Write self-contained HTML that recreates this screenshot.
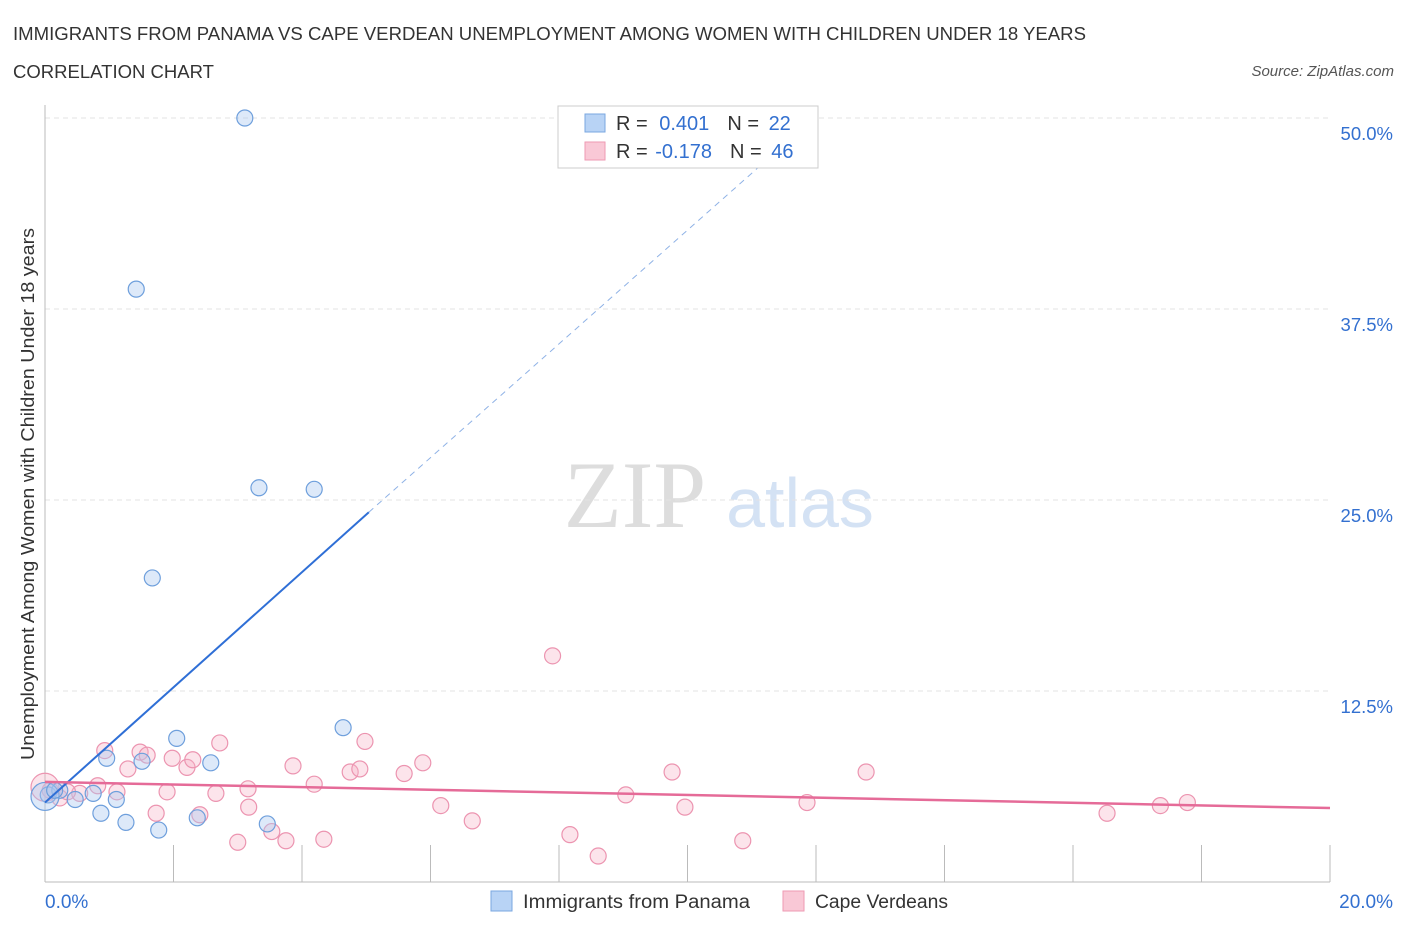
<!DOCTYPE html>
<html><head><meta charset="utf-8"><style>
body{margin:0;background:#fff;font-family:"Liberation Sans",sans-serif;}
</style></head><body>
<svg width="1406" height="930" xmlns="http://www.w3.org/2000/svg" id="svg">
<text x="13" y="40" font-size="18" fill="#333" textLength="1073" lengthAdjust="spacingAndGlyphs">IMMIGRANTS FROM PANAMA VS CAPE VERDEAN UNEMPLOYMENT AMONG WOMEN WITH CHILDREN UNDER 18 YEARS</text>
<text x="13" y="78" font-size="18" fill="#333" textLength="201" lengthAdjust="spacingAndGlyphs">CORRELATION CHART</text>
<text x="1394" y="76" font-size="15" fill="#555" font-style="italic" text-anchor="end">Source: ZipAtlas.com</text>
<text x="635" y="527" font-size="95" fill="#ddd" font-family="Liberation Serif,serif" text-anchor="middle">ZIP</text>
<text x="800" y="527" font-size="70" fill="#d4e2f4" text-anchor="middle">atlas</text>
<text transform="translate(34,494) rotate(-90)" font-size="18" fill="#333" text-anchor="middle" textLength="532" lengthAdjust="spacingAndGlyphs">Unemployment Among Women with Children Under 18 years</text>
<g id="grid"></g><g id="marks"></g>
<g>
<rect x="558" y="106" width="260" height="62" fill="#fff" stroke="#ccc"/>
<rect x="585" y="114" width="20" height="18" fill="#b8d3f5" stroke="#7aa7e0"/>
<rect x="585" y="142" width="20" height="18" fill="#f9c8d6" stroke="#ee9ab3"/>
<text x="616" y="130" font-size="20" fill="#333">R = <tspan fill="#3370d0" dx="6">0.401</tspan><tspan dx="18" fill="#333">N = </tspan><tspan fill="#3370d0" dx="4">22</tspan></text>
<text x="616" y="158" font-size="20" fill="#333">R = <tspan fill="#3370d0" dx="2">-0.178</tspan><tspan dx="18" fill="#333">N = </tspan><tspan fill="#3370d0" dx="4">46</tspan></text>
</g>
<g>
<rect x="491" y="891" width="21" height="20" fill="#b8d3f5" stroke="#7aa7e0"/>
<text x="523" y="908" font-size="19" fill="#333" textLength="227" lengthAdjust="spacingAndGlyphs">Immigrants from Panama</text>
<rect x="783" y="891" width="21" height="20" fill="#f9c8d6" stroke="#ee9ab3"/>
<text x="815" y="908" font-size="19" fill="#333" textLength="133" lengthAdjust="spacingAndGlyphs">Cape Verdeans</text>
</g>
</svg>
<script>
const yTicks=[12.5,25,37.5,50];
const yTickLabels=["12.5%","25.0%","37.5%","50.0%"];
const xTickLabels=["0.0%","20.0%"];
const blueX=[3.11,1.42,3.33,4.19,1.67,4.64,2.05,0.96,1.51,2.58,0.05,0.23,0.47,0.75,1.11,0.87,1.26,1.77,2.37,3.46,0.0,0.15];
const blueY=[50.0,38.8,25.8,25.7,19.9,10.1,9.4,8.1,7.9,7.8,5.7,6.0,5.4,5.8,5.4,4.5,3.9,3.4,4.2,3.8,5.6,6.0];
const pinkX=[0.93,1.48,1.59,1.29,1.98,2.21,2.30,2.72,3.16,3.17,3.86,4.19,4.75,4.90,4.98,5.59,5.88,7.90,6.16,6.65,8.17,8.61,9.04,9.76,9.96,10.86,11.86,12.78,16.53,17.36,17.78,3.00,3.75,4.34,3.53,2.41,1.73,1.90,2.66,1.12,0.82,0.54,0.23,0.08,0.0,0.35];
const pinkY=[8.6,8.5,8.3,7.4,8.1,7.5,8.0,9.1,6.1,4.9,7.6,6.4,7.2,7.4,9.2,7.1,7.8,14.8,5.0,4.0,3.1,1.7,5.7,7.2,4.9,2.7,5.2,7.2,4.5,5.0,5.2,2.6,2.7,2.8,3.3,4.4,4.5,5.9,5.8,5.9,6.3,5.8,5.5,6.0,6.2,5.9];
const blueFit=[0.0,5.2,5.04,24.2,11.3,47.5];
const pinkFit=[0.0,6.55,20,4.84];
const X=v=>45+v/20*1285, Y=v=>882-v/50*764;
const ns="http://www.w3.org/2000/svg";
function mk(t,a,p){const e=document.createElementNS(ns,t);for(const k in a)e.setAttribute(k,a[k]);p.appendChild(e);return e;}
const g=document.getElementById('grid'),m=document.getElementById('marks');
yTicks.forEach((t,i)=>{const l=mk('line',{x1:45,x2:1330,y1:Y(t),y2:Y(t),stroke:'#e3e3e3','stroke-dasharray':'5,4'},g);


const tx=mk('text',{x:1393,y:Y(t)+22,'font-size':18.5,fill:'#3370d0','text-anchor':'end'},g);tx.textContent=yTickLabels[i];

});
const ax=mk('line',{x1:45,x2:1330,y1:882,y2:882,stroke:'#bbb'},g);


const ay=mk('line',{x1:45,x2:45,y1:105,y2:882,stroke:'#bbb'},g);


for(let i=0;i<=10;i++){const t=mk('line',{x1:X(i*2),x2:X(i*2),y1:845,y2:882,stroke:'#bbb'},g);

}
[[0,'start',45],[20,'end',1393]].forEach((d,i)=>{const t=mk('text',{x:d[2],y:908,'font-size':19,fill:'#3370d0','text-anchor':d[1]},g);t.textContent=xTickLabels[i];

});
pinkX.forEach((x,i)=>{const r=(i==44)?14:8;const c=mk('circle',{cx:X(x),cy:Y(pinkY[i]),r:r,fill:'rgba(246,178,199,0.35)',stroke:'#ec94b0','stroke-width':1.2},m);

});
blueX.forEach((x,i)=>{const r=(i==20)?14:8;const c=mk('circle',{cx:X(x),cy:Y(blueY[i]),r:r,fill:'rgba(170,200,240,0.4)',stroke:'#6e9fdc','stroke-width':1.2},m);

});
const bl=mk('line',{x1:X(blueFit[0]),y1:Y(blueFit[1]),x2:X(blueFit[2]),y2:Y(blueFit[3]),stroke:'#2f6fd6','stroke-width':2},m);


const bd=mk('line',{x1:X(blueFit[2]),y1:Y(blueFit[3]),x2:X(blueFit[4]),y2:Y(blueFit[5]),stroke:'#8fb2e6','stroke-width':1,'stroke-dasharray':'6,5'},m);


const pl=mk('line',{x1:X(pinkFit[0]),y1:Y(pinkFit[1]),x2:X(pinkFit[2]),y2:Y(pinkFit[3]),stroke:'#e56b98','stroke-width':2.5},m);


</script>
</body></html>
